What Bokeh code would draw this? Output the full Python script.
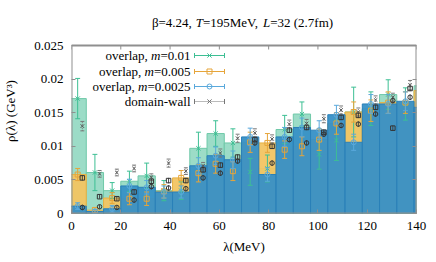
import math
from bokeh.plotting import figure
from bokeh.models import Range1d, LinearAxis, FixedTicker, Label
from bokeh.embed import file_html
from bokeh.resources import INLINE

# ---------------- data ----------------
bin_lo = [-1, 6, 13, 20, 27, 34, 41, 48, 55, 62, 69, 76, 83, 90, 97, 104, 111, 118, 125, 132, 139]
BIN_W = 7.0

rho_m010 = [0.0171, 0.0061, 0.0034, 0.0048, 0.0056, 0.0034, 0.0034, 0.0097, 0.0119, 0.0105, 0.0062,
            0.0067, 0.0125, 0.0148, 0.0088, 0.0109, 0.0151, 0.0156, 0.0177, 0.0163, 0.0190]
err_m010 = [0.0030, 0.0027, 0.0012, 0.0015, 0.0019, 0.0015, 0.0013, 0.0024, 0.0019, 0.0021, 0.0020,
            0.0020, 0.0021, 0.0018, 0.0022, 0.0030, 0.0037, 0.0025, 0.0022, 0.0024, 0.0022]
rho_m005 = [0.0058, 0.0005, 0.0023, 0.0022, 0.0022, 0.0033, 0.0053, 0.0060, 0.0074, 0.0063, 0.0106,
            0.0105, 0.0095, 0.0100, 0.0110, 0.0134, 0.0151, 0.0153, 0.0165, 0.0165, 0.0183]
err_m005 = [0.0009, 0.0004, 0.0008, 0.0009, 0.0010, 0.0010, 0.0011, 0.0013, 0.0014, 0.0014, 0.0015,
            0.0014, 0.0013, 0.0014, 0.0016, 0.0016, 0.0015, 0.0016, 0.0016, 0.0016, 0.0016]
rho_m0025 = [0.0011, 0.0003, 0.0007, 0.0041, 0.0039, 0.0032, 0.0032, 0.0071, 0.0086, 0.0080, 0.0114,
             0.0058, 0.0114, 0.0128, 0.0124, 0.0147, 0.0106, 0.0163, 0.0163, 0.0167, 0.0158]
err_m0025 = [0.0005, 0.0003, 0.0005, 0.0010, 0.0010, 0.0009, 0.0009, 0.0012, 0.0013, 0.0013, 0.0013,
             0.0010, 0.0014, 0.0014, 0.0014, 0.0014, 0.0012, 0.0014, 0.0014, 0.0014, 0.0014]

# domain-wall points (bins 0..19)
rho_dw = [0.0130, 0.0059, 0.0061, 0.0067, 0.0054, 0.0075, 0.0063, 0.0071, 0.0090, 0.0112,
          0.0120, 0.0111, 0.0133, 0.0134, 0.0141, 0.0154, 0.0151, 0.0169, 0.0173, 0.0191]
err_dw = [0.0007, 0.0005, 0.0005, 0.0005, 0.0005, 0.0006, 0.0005, 0.0005, 0.0006, 0.0006,
          0.0006, 0.0006, 0.0006, 0.0006, 0.0006, 0.0006, 0.0006, 0.0006, 0.0006, 0.0007]
rho_dw_sq = [0.0053, 0.0025, 0.0022, 0.0032, 0.0048, 0.0049, 0.0049, 0.0065, 0.0072, 0.0084,
             0.0110, 0.0100, 0.0124, 0.0128, 0.0121, 0.0143, 0.0146, 0.0158, 0.0127, 0.0186]
rho_dw_ci = [0.0009, 0.0010, 0.0009, 0.0020, 0.0040, 0.0038, 0.0037, 0.0053, 0.0060, 0.0078,
             0.0105, 0.0075, 0.0110, 0.0105, 0.0118, 0.0131, 0.0133, 0.0148, 0.0168, 0.0173]
err_dw_b = [0.0004, 0.0003, 0.0003, 0.0004, 0.0004, 0.0004, 0.0004, 0.0004, 0.0004, 0.0004,
            0.0004, 0.0004, 0.0004, 0.0004, 0.0004, 0.0004, 0.0004, 0.0004, 0.0004, 0.0004]

x_ticks = [0, 20, 40, 60, 80, 100, 120, 140]
x_tick_labels = ["0", "20", "40", "60", "80", "100", "120", "140"]
y_ticks = [0, 0.005, 0.01, 0.015, 0.02, 0.025]
y_tick_labels = ["0", "0.005", "0.01", "0.015", "0.02", "0.025"]

title_parts = [("β=4.24, ", "normal"), ("T", "italic"), ("=195MeV, ", "normal"),
               ("L", "italic"), ("=32 (2.7fm)", "normal")]
legend_rows = [("overlap, ", "m", "=0.01"), ("overlap, ", "m", "=0.005"),
               ("overlap, ", "m", "=0.0025"), ("domain-wall", "", "")]

# ---------------- layout (page pixels) ----------------
W, H = 436, 262
FL, FT, FW, FH = 71, 45, 345, 168    # plot box on the page
TOP = 8                              # frame extends up to here so the title can live inside it
XMIN, XMAX, YMIN, YMAX = 0.0, 140.0, 0.0, 0.025
FONT = "Liberation Serif"
GRAY = "#8f8f8f"

def dx(px):   # page x -> data x
    return XMIN + (px - FL) / FW * (XMAX - XMIN)

def dy(py):   # page y (from top) -> data y
    return YMIN + (FT + FH - py) / FH * (YMAX - YMIN)

PX_Y = (YMAX - YMIN) / FH

def w13(s, italic=False):
    widths = {"β": 0.55, "=": 0.564, ".": 0.25, ",": 0.25, " ": 0.25, "T": 0.556, "L": 0.556,
              "M": 0.889, "e": 0.444, "V": 0.722, "(": 0.333, ")": 0.333, "f": 0.333, "m": 0.778,
              "o": 0.5, "v": 0.5, "r": 0.333, "l": 0.278, "a": 0.444, "p": 0.5, "d": 0.5,
              "i": 0.278, "n": 0.5, "-": 0.333, "w": 0.722}
    if italic:
        widths.update({"m": 0.722})
    return sum(widths.get(c, 0.5) for c in s) * 13

p = figure(width=W, height=H, output_backend="svg", toolbar_location=None,
           x_range=Range1d(XMIN, XMAX), y_range=Range1d(YMIN, dy(TOP)),
           min_border_left=FL, min_border_right=W - FL - FW,
           min_border_top=TOP, min_border_bottom=H - FT - FH)
p.grid.visible = False
p.outline_line_color = None
p.background_fill_color = "white"
p.border_fill_color = "white"

for ax, ticks, labels in ((p.xaxis[0], x_ticks, x_tick_labels), (p.yaxis[0], y_ticks, y_tick_labels)):
    ax.ticker = FixedTicker(ticks=ticks)
    ax.major_label_overrides = dict(zip(ticks, labels))
    ax.major_label_text_font = FONT
    ax.major_label_text_font_size = "13px"
    ax.major_label_text_color = "black"
    ax.axis_line_color = None
    ax.major_tick_in = 4
    ax.major_tick_out = 0
    ax.major_tick_line_color = GRAY
    ax.minor_tick_line_color = None
    ax.axis_label_text_font = FONT
    ax.axis_label_text_font_size = "13px"
    ax.axis_label_text_font_style = "normal"
    ax.axis_label_text_color = "black"
p.xaxis[0].major_label_standoff = 8
p.yaxis[0].major_label_standoff = 8
p.xaxis[0].axis_label = "λ(MeV)"
p.xaxis[0].axis_label_standoff = 6
p.yaxis[0].axis_label = "ρ(λ) (GeV³)"
p.yaxis[0].axis_label_standoff = 13

ax_r = LinearAxis(ticker=FixedTicker(ticks=y_ticks))
ax_r.major_label_overrides = {t: "" for t in y_ticks}
ax_r.major_label_text_font_size = "1px"
ax_r.major_label_standoff = 0
ax_r.axis_line_color = None
ax_r.major_tick_in = 4
ax_r.major_tick_out = 0
ax_r.major_tick_line_color = GRAY
ax_r.minor_tick_line_color = None
p.add_layout(ax_r, "right")

# ---------------- bars ----------------
series = [
    (rho_m010, err_m010, "#97dac4", "#70c9a9", "#3dbf94", "x"),
    (rho_m005, err_m005, "#f2c462", "#e8b243", "#e6a53a", "square"),
    (rho_m0025, err_m0025, "#3790c6", "#2a80b8", "#5aa9dc", "circle"),
]
for vals, errs, fill, edge, ecol, mk in series:
    p.quad(left=list(bin_lo), right=[b + BIN_W for b in bin_lo], bottom=[0.0] * len(vals), top=vals,
           fill_color=fill, fill_alpha=0.95, line_color=edge, line_width=1)

cap = 1.0
for vals, errs, fill, edge, ecol, mk in series:
    xc = [b + BIN_W / 2 for b in bin_lo]
    lo = [v - e for v, e in zip(vals, errs)]
    hi = [v + e for v, e in zip(vals, errs)]
    p.segment(x0=xc, y0=lo, x1=xc, y1=hi, line_color=ecol, line_width=1)
    p.segment(x0=[x - cap for x in xc], y0=lo, x1=[x + cap for x in xc], y1=lo, line_color=ecol, line_width=1)
    p.segment(x0=[x - cap for x in xc], y0=hi, x1=[x + cap for x in xc], y1=hi, line_color=ecol, line_width=1)
    p.scatter(x=xc, y=vals, marker=mk, size=5 if mk != "x" else 6, line_color=ecol,
              fill_color=None, line_width=1)

# domain-wall cluster
n_dw = len(rho_dw)
xd = [b + BIN_W / 2 + 1.9 for b in bin_lo[:n_dw]]
lo = [v - e for v, e in zip(rho_dw, err_dw)]
hi = [v + e for v, e in zip(rho_dw, err_dw)]
p.segment(x0=xd, y0=lo, x1=xd, y1=hi, line_color="#777777", line_width=1, line_dash="1 1")
p.segment(x0=[x - 0.8 for x in xd], y0=hi, x1=[x + 0.8 for x in xd], y1=hi, line_color="#777777", line_width=1)
p.segment(x0=[x - 0.8 for x in xd], y0=lo, x1=[x + 0.8 for x in xd], y1=lo, line_color="#777777", line_width=1)
for vals, mk in ((rho_dw_sq, "square"), (rho_dw_ci, "circle")):
    lo2 = [v - e for v, e in zip(vals, err_dw_b)]
    hi2 = [v + e for v, e in zip(vals, err_dw_b)]
    p.segment(x0=xd, y0=lo2, x1=xd, y1=hi2, line_color="#444444", line_width=1)
    p.scatter(x=xd, y=vals, marker=mk, size=4.5, line_color="#333333", fill_color=None, line_width=1)
p.scatter(x=xd, y=rho_dw, marker="x", size=5, line_color="#555555", line_width=1)

# ---------------- plot box and top ticks ----------------
p.line(x=[XMIN, XMAX, XMAX, XMIN, XMIN], y=[YMIN, YMIN, YMAX, YMAX, YMIN],
       line_color=GRAY, line_width=2)
p.segment(x0=x_ticks, y0=[YMAX] * len(x_ticks), x1=x_ticks, y1=[YMAX - 4 * PX_Y] * len(x_ticks),
          line_color=GRAY, line_width=1)

# ---------------- title ----------------
total = sum(w13(t, st == "italic") for t, st in title_parts)
xpos = 242 - total / 2
for t, st in title_parts:
    p.add_layout(Label(x=dx(xpos), y=dy(22), text=t, text_font=FONT, text_font_size="13px",
                       text_font_style=st, text_align="left", text_baseline="middle", text_color="black"))
    xpos += w13(t, st == "italic")

# ---------------- legend (gnuplot style: text right-aligned, sample on the right) ----------------
row_y = [55, 71, 86, 101]
text_right = 190
s0, s1 = 194, 224
styles = [("#3dbf94", "x", None), ("#e6a53a", "square", None), ("#5aa9dc", "circle", None),
          ("#777777", "x", "1 1")]
for (a, b, c), ry, (col, mk, dash) in zip(legend_rows, row_y, styles):
    xr = text_right
    for t, st in ((c, "normal"), (b, "italic"), (a, "normal")):
        if not t:
            continue
        p.add_layout(Label(x=dx(xr), y=dy(ry), text=t, text_font=FONT, text_font_size="13px",
                           text_font_style=st, text_align="right", text_baseline="middle", text_color="black"))
        xr -= w13(t, st == "italic")
    yy = dy(ry)
    p.segment(x0=[dx(s0)], y0=[yy], x1=[dx(s1)], y1=[yy], line_color=col, line_width=1,
              line_dash=dash if dash else "solid")
    for sx_ in (s0, s1):
        p.segment(x0=[dx(sx_)], y0=[yy - 2.5 * PX_Y], x1=[dx(sx_)], y1=[yy + 2.5 * PX_Y], line_color=col, line_width=1)
    p.scatter(x=[dx((s0 + s1) / 2)], y=[yy], marker=mk, size=5 if mk != "x" else 6,
              line_color=col, fill_color=None, line_width=1)

open("out.html", "w").write(file_html(p, INLINE))
